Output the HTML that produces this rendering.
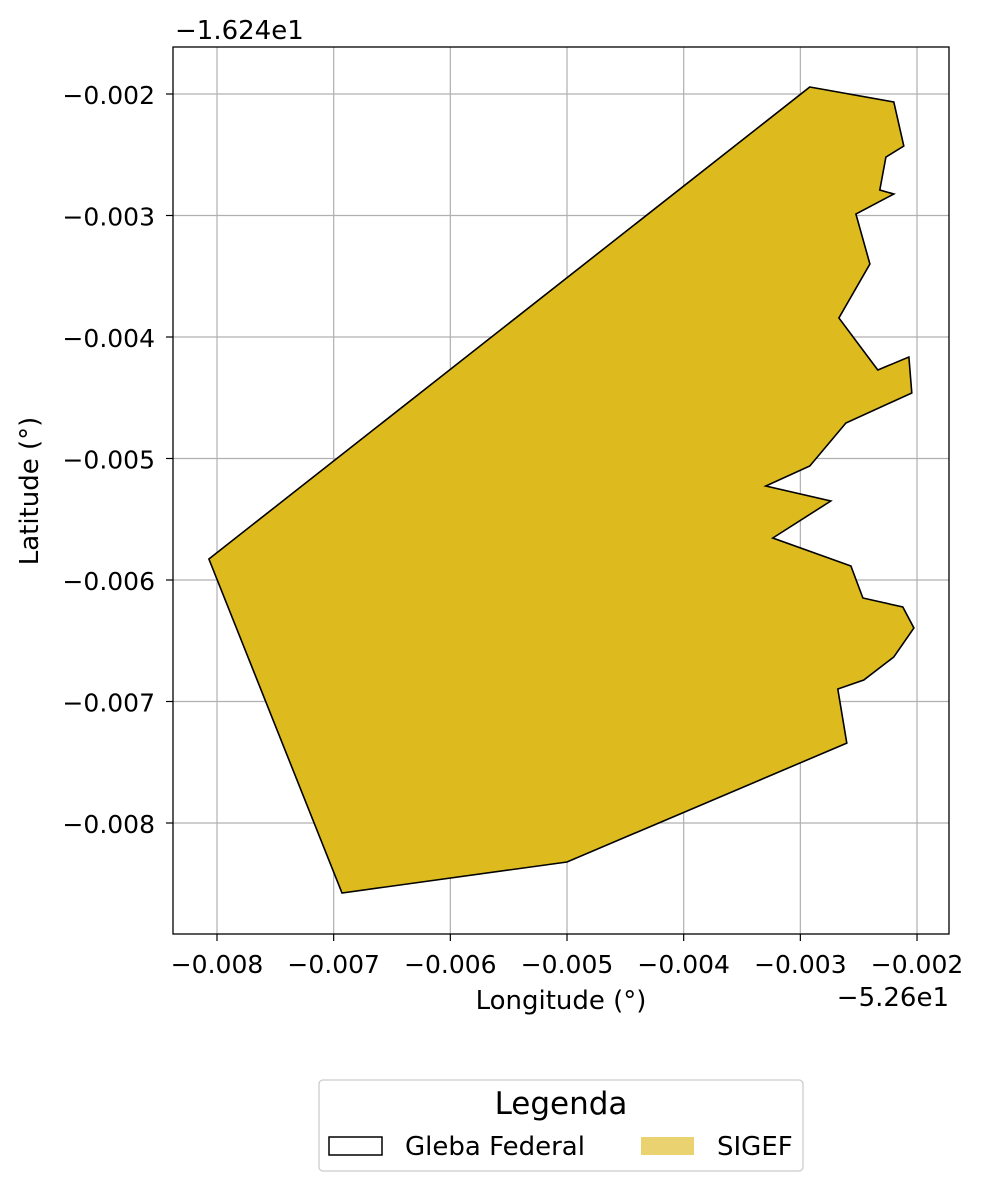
<!DOCTYPE html>
<html><head><meta charset="utf-8"><style>
body{margin:0;background:#fff}
svg text{font-family:"DejaVu Sans","Liberation Sans",sans-serif;fill:#000}
</style></head><body>
<svg id="chart" width="985" height="1191">
<g id="grid"></g>
<g id="poly"></g>
<rect x="173" y="47" width="776" height="887" fill="none" stroke="#000" stroke-width="1.3"/>
<g id="ticks"></g>
<text x="175" y="39" font-size="26">−1.624e1</text>
<text x="949" y="1006" font-size="26" text-anchor="end">−5.26e1</text>
<text x="561" y="1009" font-size="26" text-anchor="middle">Longitude (°)</text>
<text x="38" y="491" font-size="26" text-anchor="middle" transform="rotate(-90 38 491)">Latitude (°)</text>
<g>
<rect x="319" y="1080" width="484" height="91" rx="4" fill="#fff" stroke="#ccc" stroke-width="1.3"/>
<text x="561" y="1114" font-size="31" text-anchor="middle">Legenda</text>
<rect x="329" y="1137" width="53" height="18" fill="none" stroke="#000" stroke-width="1.5"/>
<text x="405" y="1155" font-size="26">Gleba Federal</text>
<rect x="641" y="1137" width="53" height="18" fill="#E9D26F"/>
<text x="717" y="1155" font-size="26">SIGEF</text>
</g>
</svg>
<script>
const lonVals=[-0.002919,-0.002199,-0.002113,-0.002267,-0.002319,-0.002199,-0.002524,-0.002404,-0.002670,-0.002336,-0.002070,-0.002045,-0.002610,-0.002919,-0.003296,-0.002739,-0.003236,-0.002567,-0.002464,-0.002122,-0.002027,-0.002199,-0.002456,-0.002679,-0.002602,-0.005000,-0.006929,-0.008069];
const latVals=[-0.001942,-0.002066,-0.002428,-0.002519,-0.002790,-0.002823,-0.002988,-0.003399,-0.003844,-0.004272,-0.004165,-0.004461,-0.004708,-0.005062,-0.005226,-0.005350,-0.005654,-0.005885,-0.006148,-0.006222,-0.006395,-0.006634,-0.006823,-0.006897,-0.007342,-0.008321,-0.008576,-0.005827];
const xTicks=[-0.008,-0.007,-0.006,-0.005,-0.004,-0.003,-0.002];
const yTicks=[-0.002,-0.003,-0.004,-0.005,-0.006,-0.007,-0.008];
const NS="http://www.w3.org/2000/svg";
const X=v=>217+(v+0.008)/0.001*116.67;
const Y=v=>94-(v+0.002)/0.001*121.5;
function mk(t,a,p){const e=document.createElementNS(NS,t);for(const k in a)e.setAttribute(k,a[k]);p.appendChild(e);return e;}
const grid=document.getElementById('grid'),ticks=document.getElementById('ticks'),poly=document.getElementById('poly');
xTicks.forEach(v=>{const x=X(v);
 const g=mk('line',{x1:x,x2:x,y1:47,y2:934,stroke:'#b0b0b0','stroke-width':1.2},grid);
 
 
 mk('line',{x1:x,x2:x,y1:934,y2:941,stroke:'#000','stroke-width':1.2},ticks);
 const t=mk('text',{x:x,y:973,'font-size':25,'text-anchor':'middle'},ticks);t.textContent='−'+Math.abs(v).toFixed(3);
 
 });
yTicks.forEach(v=>{const y=Y(v);
 const g=mk('line',{x1:173,x2:949,y1:y,y2:y,stroke:'#b0b0b0','stroke-width':1.2},grid);
 
 
 mk('line',{x1:166,x2:173,y1:y,y2:y,stroke:'#000','stroke-width':1.2},ticks);
 const t=mk('text',{x:155,y:y+10,'font-size':25,'text-anchor':'end'},ticks);t.textContent='−'+Math.abs(v).toFixed(3);
 
 });
const pts=lonVals.map((v,i)=>X(v).toFixed(1)+','+Y(latVals[i]).toFixed(1)).join(' ');
const p=mk('polygon',{points:pts,fill:'#DDBB1F',stroke:'#000','stroke-width':1.6,'stroke-linejoin':'miter'},poly);


</script>
</body></html>
